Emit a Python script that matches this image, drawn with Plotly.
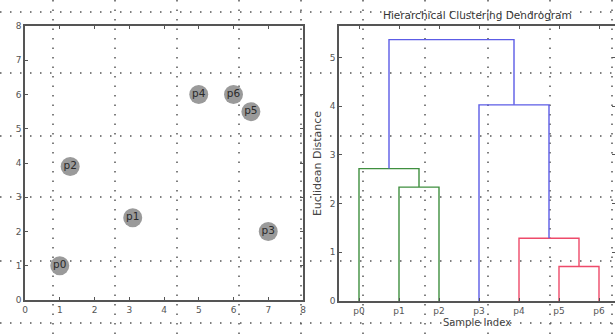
import plotly.graph_objects as go

# ---- data ----
point_labels = ["p0", "p1", "p2", "p3", "p4", "p5", "p6"]
point_x = [1.0, 3.1, 1.3, 7.0, 5.0, 6.5, 6.0]
point_y = [1.0, 2.4, 3.9, 2.0, 6.0, 5.5, 6.0]

# dendrogram merges (scipy-style ids: leaves 0..6, merged nodes from 7)
merge_left = [1, 0, 5, 4, 3, 8]
merge_right = [2, 7, 6, 9, 10, 11]
merge_height = [2.34, 2.72, 0.71, 1.29, 4.03, 5.37]
merge_color = ["green", "green", "red", "red", "blue", "blue"]
leaf_order = [0, 1, 2, 3, 4, 5, 6]

scatter_ticks = [0, 1, 2, 3, 4, 5, 6, 7, 8]
dendro_yticks = [0, 1, 2, 3, 4, 5]

# ---- styling ----
W, H = 615, 334
COLORS = {"green": "#3f8f3f", "red": "#ee4a6a", "blue": "#5c5ce6"}
FONT = "DejaVu Sans"
AX = "#555555"


def px(x):
    return x / W


def py(y):
    return 1 - y / H


fig = go.Figure()

# scatter panel
fig.add_trace(go.Scatter(
    x=point_x, y=point_y, text=point_labels, mode="markers+text",
    marker=dict(size=19, color="#9a9a9a", line=dict(width=0)),
    textposition="middle center",
    textfont=dict(family=FONT, size=10.5, color="#2a2a2a"),
    xaxis="x", yaxis="y", showlegend=False, hoverinfo="skip"))

# dendrogram panel
n = len(leaf_order)
node_x = {leaf: 5 + 10 * i for i, leaf in enumerate(leaf_order)}
node_h = {leaf: 0.0 for leaf in leaf_order}
for k, (a, b, h, c) in enumerate(zip(merge_left, merge_right, merge_height, merge_color)):
    nid = n + k
    xa, xb = node_x[a], node_x[b]
    fig.add_trace(go.Scatter(
        x=[xa, xa, xb, xb], y=[node_h[a], h, h, node_h[b]],
        mode="lines", line=dict(color=COLORS[c], width=1.4),
        xaxis="x2", yaxis="y2", showlegend=False, hoverinfo="skip"))
    node_x[nid] = (xa + xb) / 2
    node_h[nid] = h

# dotted overlay grid (background pattern of the picture)
shapes = []
for yy in [12, 73, 136, 197, 261, 323]:
    shapes.append(dict(type="line", xref="paper", yref="paper",
                       x0=0, x1=1, y0=py(yy), y1=py(yy), layer="below",
                       line=dict(color="#555555", width=1.5, dash="1.5px,8.5px")))
for xx in [53, 115, 177, 239, 301, 363, 425, 488, 550, 612]:
    shapes.append(dict(type="line", xref="paper", yref="paper",
                       x0=px(xx), x1=px(xx), y0=0, y1=1, layer="below",
                       line=dict(color="#555555", width=1.5, dash="1.5px,8px")))

axis_common = dict(showgrid=False, zeroline=False, showline=True,
                   linecolor=AX, linewidth=1.6, mirror="allticks",
                   ticks="inside", ticklen=3, tickcolor=AX,
                   tickfont=dict(family=FONT, size=9, color="#555555"),
                   automargin=False)

fig.update_layout(
    width=W, height=H,
    margin=dict(l=0, r=0, t=0, b=0),
    paper_bgcolor="white", plot_bgcolor="rgba(0,0,0,0)",
    shapes=shapes,
    xaxis=dict(domain=[px(25), px(303)], range=[0, 8], tickvals=scatter_ticks,
               anchor="y", **axis_common),
    yaxis=dict(domain=[py(300), py(26)], range=[0, 8], tickvals=scatter_ticks,
               anchor="x", **axis_common),
    xaxis2=dict(domain=[px(339), 1], range=[0, 69],
                tickvals=[5 + 10 * i for i in range(n)],
                ticktext=[point_labels[l] for l in leaf_order],
                anchor="y2",
                title=dict(text="Sample Index", standoff=4,
                           font=dict(family=FONT, size=10, color="#444444")),
                **axis_common),
    yaxis2=dict(domain=[py(301), py(26)], range=[0, 5.65], tickvals=dendro_yticks,
                anchor="x2",
                title=dict(text="Euclidean Distance", standoff=6,
                           font=dict(family=FONT, size=11, color="#444444")),
                **axis_common),
    annotations=[dict(text="Hierarchical Clustering Dendrogram", xref="paper",
                      yref="paper", x=px(477), y=py(15), showarrow=False,
                      xanchor="center", yanchor="middle",
                      font=dict(family=FONT, size=10.5, color="#333333"))],
)

fig.write_html("out.html",
               config={"displayModeBar": False},
               post_script="document.body.style.margin='0px';"
                           "document.body.style.overflow='hidden';")
